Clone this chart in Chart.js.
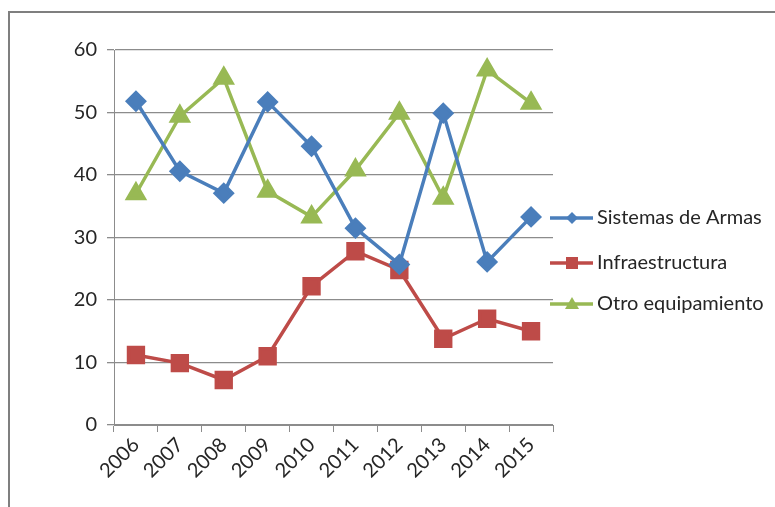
<!DOCTYPE html>
<html>
<head>
<meta charset="utf-8">
<script src="https://cdn.jsdelivr.net/npm/chart.js"></script>
<style>
  html, body { margin: 0; padding: 0; background: #fff; }
  #wrap { width: 775px; height: 507px; position: relative; }
</style>
</head>
<body>
<div id="wrap"><canvas id="grafico"></canvas></div>
<script>
const anios = ['2006', '2007', '2008', '2009', '2010', '2011', '2012', '2013', '2014', '2015'];
const sistemasArmas = [51.8, 40.6, 37.1, 51.7, 44.6, 31.5, 25.7, 49.9, 26.1, 33.3];
const infraestructura = [11.2, 9.9, 7.2, 11.0, 22.2, 27.8, 24.8, 13.8, 17.0, 15.0];
const otroEquipamiento = [37.0, 49.4, 55.5, 37.4, 33.3, 40.8, 49.9, 36.3, 56.8, 51.5];
const ticksY = [0, 10, 20, 30, 40, 50, 60];

const FUENTE = 'Lato, "Liberation Sans", sans-serif';
const gris = '#8c8c8c';

// marco del gráfico
const marco = {
  id: 'marco',
  beforeDraw(chart) {
    const c = chart.ctx;
    c.save();
    c.strokeStyle = '#7f7f7f';
    c.lineWidth = 2;
    c.beginPath();
    c.moveTo(9, 520);
    c.lineTo(9, 12);
    c.lineTo(790, 12);
    c.stroke();
    c.restore();
  }
};

// leyenda con línea y marcador
const leyenda = {
  id: 'leyenda',
  afterDraw(chart) {
    const c = chart.ctx;
    const x0 = chart.chartArea.right - 3;
    const ys = [218, 263, 304];
    c.save();
    chart.data.datasets.forEach((ds, i) => {
      const y = ys[i];
      c.strokeStyle = ds.borderColor;
      c.lineWidth = 3.5;
      c.beginPath();
      c.moveTo(x0, y);
      c.lineTo(x0 + 43, y);
      c.stroke();
      c.fillStyle = ds.backgroundColor;
      const cx = x0 + 22;
      c.beginPath();
      if (ds.pointStyle === 'rectRot') {
        c.moveTo(cx, y - 6); c.lineTo(cx + 6, y); c.lineTo(cx, y + 6); c.lineTo(cx - 6, y);
      } else if (ds.pointStyle === 'rect') {
        c.rect(cx - 6, y - 6, 12, 12);
      } else {
        c.moveTo(cx, y - 7); c.lineTo(cx + 7, y + 5); c.lineTo(cx - 7, y + 5);
      }
      c.closePath();
      c.fill();
      c.fillStyle = '#262626';
      c.font = '20px ' + FUENTE;
      c.textBaseline = 'middle';
      c.fillText(ds.label, x0 + 47, y);
    });
    c.restore();
  }
};

new Chart(document.getElementById('grafico').getContext('2d'), {
  type: 'line',
  data: {
    labels: anios,
    datasets: [
      {
        label: 'Sistemas de Armas',
        data: sistemasArmas,
        borderColor: '#4a7ebb',
        backgroundColor: '#4a7ebb',
        pointStyle: 'rectRot',
        pointRadius: 8.5,
        borderWidth: 3.5,
        tension: 0
      },
      {
        label: 'Infraestructura',
        data: infraestructura,
        borderColor: '#be4b48',
        backgroundColor: '#be4b48',
        pointStyle: 'rect',
        pointRadius: 10.5,
        borderWidth: 3.5,
        tension: 0
      },
      {
        label: 'Otro equipamiento',
        data: otroEquipamiento,
        borderColor: '#98b954',
        backgroundColor: '#98b954',
        pointStyle: 'triangle',
        pointRadius: 9.5,
        borderWidth: 3.5,
        tension: 0
      }
    ]
  },
  options: {
    responsive: true,
    maintainAspectRatio: false,
    animation: false,
    layout: { padding: { top: 50, right: 222, left: 0, bottom: 0 } },
    plugins: {
      legend: { display: false },
      tooltip: { enabled: false }
    },
    scales: {
      x: {
        offset: true,
        grid: { offset: true, drawOnChartArea: false, drawTicks: true, tickLength: 7, color: gris },
        border: { display: true, color: gris },
        ticks: {
          color: '#262626',
          font: { family: FUENTE, size: 20 },
          minRotation: 45,
          maxRotation: 45,
          padding: 1
        },
        afterFit(scale) { scale.height = 507 - 425; }
      },
      y: {
        min: 0,
        max: 60,
        afterBuildTicks(scale) { scale.ticks = ticksY.map(v => ({ value: v })); },
        grid: { color: gris, tickLength: 7, lineWidth: 1.3 },
        border: { display: true, color: gris },
        ticks: {
          color: '#262626',
          font: { family: FUENTE, size: 20 },
          padding: 10
        },
        afterFit(scale) { scale.width = 114; }
      }
    }
  },
  plugins: [marco, leyenda]
});
</script>
</body>
</html>
